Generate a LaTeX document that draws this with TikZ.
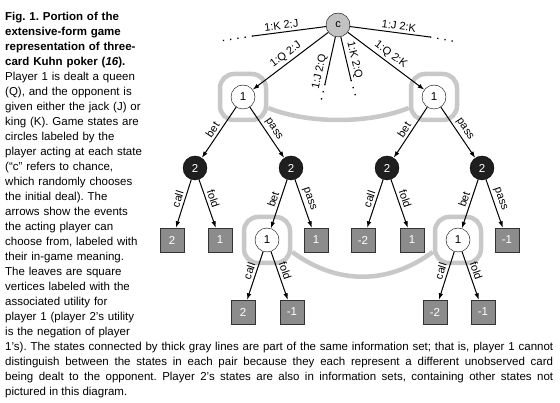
\documentclass[tikz,border=0pt]{standalone}
\usepackage{fontspec}
\setmainfont{Liberation Sans}
\usetikzlibrary{arrows.meta}
\definecolor{ringGray}{HTML}{C8C8C8}
\definecolor{leafGray}{HTML}{8C8C8C}
\definecolor{chanceGray}{HTML}{C2C2C2}
\frenchspacing
\begin{document}
\begin{tikzpicture}[x=1pt,y=-1pt,chance/.style={circle,draw,fill=chanceGray,minimum size=24pt,inner sep=0pt,font=\fontsize{11}{13}\selectfont},pone/.style={circle,draw,fill=white,minimum size=24pt,inner sep=0pt,font=\fontsize{11.5}{13}\selectfont},ptwo/.style={circle,draw,fill=black!88,text=white,minimum size=24pt,inner sep=0pt,font=\fontsize{11.5}{13}\selectfont},leaf/.style={draw=black!80,fill=leafGray,text=white,minimum size=24pt,inner sep=0pt,font=\fontsize{11.5}{13}\selectfont},infoset/.style={draw=ringGray,line width=4.5pt,rounded corners=14pt,minimum size=46pt},infolink/.style={draw=ringGray,line width=4.5pt},move/.style={-{Latex[length=6.5pt,width=4.5pt]},line width=1pt},deal/.style={line width=1pt},trail/.style={line width=1.3pt,dash pattern=on 1.3pt off 6pt},lbl/.style={sloped,above,inner sep=2.5pt,pos=0.45,font=\fontsize{11}{12}\selectfont},capt/.style={anchor=base west,inner sep=0pt,font=\fontsize{11.5}{15}\selectfont}]
\path[use as bounding box,fill=white] (0,0) rectangle (560,403);
\node[capt,text width=150pt,align=left] (capL) at (5,21) {\textbf{Fig. 1. Portion of the}\\
\textbf{extensive-form game}\\
\textbf{representation of three-}\\
\textbf{card Kuhn poker (\textit{16}).}\\
Player 1 is dealt a queen\\
(Q), and the opponent is\\
given either the jack (J) or\\
king (K). Game states are\\
circles labeled by the\\
player acting at each state\\
(“c” refers to chance,\\
which randomly chooses\\
the initial deal). The\\
arrows show the events\\
the acting player can\\
choose from, labeled with\\
their in-game meaning.\\
The leaves are square\\
vertices labeled with the\\
associated utility for\\
player 1 (player 2’s utility\\
is the negation of player};
\node[capt,text width=548pt,align=justify] (capB) at (5,351) {1’s). The states connected by thick gray lines are part of the same information set; that is, player 1 cannot\linebreak
distinguish between the states in each pair because they each represent a different unobserved card\linebreak
being dealt to the opponent. Player 2’s states are also in information sets, containing other states not\linebreak
pictured in this diagram.};
\node[chance] (c) at (338,25) {c};
\node[pone] (p1a) at (243,97) {1};
\node[pone] (p1b) at (434,97) {1};
\node[ptwo] (p2a) at (195,168) {2};
\node[ptwo] (p2b) at (291,168) {2};
\node[ptwo] (p2c) at (387,168) {2};
\node[ptwo] (p2d) at (482,168) {2};
\node[leaf] (l1) at (172,240) {2};
\node[leaf] (l2) at (220,240) {1};
\node[pone] (p1c) at (267,240) {1};
\node[leaf] (l3) at (316,240) {1};
\node[leaf] (l4) at (363,240) {-2};
\node[leaf] (l5) at (412,240) {1};
\node[pone] (p1d) at (458,240) {1};
\node[leaf] (l6) at (507,240) {-1};
\node[leaf] (l7) at (243,312) {2};
\node[leaf] (l8) at (292,312) {-1};
\node[leaf] (l9) at (435,312) {-2};
\node[leaf] (l10) at (483,312) {-1};
\node[infoset] (is1) at (p1a) {};
\node[infoset] (is2) at (p1b) {};
\node[infoset] (is3) at (p1c) {};
\node[infoset] (is4) at (p1d) {};
\draw[infolink] ([yshift=-11pt]is1.east) .. controls +(40,16) and +(-40,16) .. ([yshift=-11pt]is2.west);
\draw[infolink] ([yshift=-12pt]is3.east) .. controls +(45,33) and +(-45,33) .. ([yshift=-12pt]is4.west);
\coordinate (kjCut) at (253,36);
\coordinate (kjEnd) at (220,41);
\coordinate (jkCut) at (430,37);
\coordinate (jkEnd) at (458,42);
\coordinate (jqCut) at (325,84);
\coordinate (jqEnd) at (321,101);
\coordinate (kqCut) at (351,80);
\coordinate (kqEnd) at (357,101);
\draw[deal] (c) -- (kjCut) node[lbl,pos=0.6] {1:K 2:J};
\draw[trail] (kjCut) -- (kjEnd);
\draw[deal] (c) -- (jkCut) node[lbl,pos=0.6] {1:J 2:K};
\draw[trail] (jkCut) -- (jkEnd);
\draw[deal] (c) -- (jqCut) node[lbl,pos=0.77] {1:J 2:Q};
\draw[trail] (jqCut) -- (jqEnd);
\draw[deal] (c) -- (kqCut) node[lbl,pos=0.58] {1:K 2:Q};
\draw[trail] (kqCut) -- (kqEnd);
\draw[move] (c) -- (p1a) node[lbl,pos=0.5] {1:Q 2:J};
\draw[move] (c) -- (p1b) node[lbl,pos=0.5] {1:Q 2:K};
\draw[move] (p1a) -- (p2a) node[lbl,pos=0.52] {bet};
\draw[move] (p1a) -- (p2b) node[lbl,pos=0.52] {pass};
\draw[move] (p1b) -- (p2c) node[lbl,pos=0.52] {bet};
\draw[move] (p1b) -- (p2d) node[lbl,pos=0.52] {pass};
\draw[move] (p2a) -- (l1) node[lbl] {call};
\draw[move] (p2a) -- (l2) node[lbl] {fold};
\draw[move] (p2b) -- (p1c) node[lbl] {bet};
\draw[move] (p2b) -- (l3) node[lbl] {pass};
\draw[move] (p2c) -- (l4) node[lbl] {call};
\draw[move] (p2c) -- (l5) node[lbl] {fold};
\draw[move] (p2d) -- (p1d) node[lbl] {bet};
\draw[move] (p2d) -- (l6) node[lbl] {pass};
\draw[move] (p1c) -- (l7) node[lbl] {call};
\draw[move] (p1c) -- (l8) node[lbl] {fold};
\draw[move] (p1d) -- (l9) node[lbl] {call};
\draw[move] (p1d) -- (l10) node[lbl] {fold};
\end{tikzpicture}
\end{document}
